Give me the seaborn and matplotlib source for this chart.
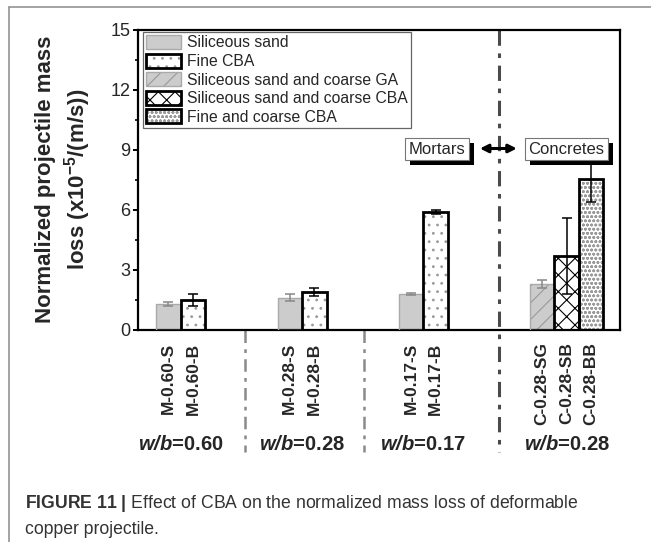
import numpy as np
import pandas as pd
import matplotlib
matplotlib.use("Agg")
import matplotlib.pyplot as plt
import seaborn as sns
from matplotlib.patches import Patch, Rectangle
from matplotlib.lines import Line2D
from matplotlib.ticker import MultipleLocator
from matplotlib.transforms import IdentityTransform

# ---- data -------------------------------------------------------------
samples = ["M-0.60-S", "M-0.60-B", "M-0.28-S", "M-0.28-B", "M-0.17-S", "M-0.17-B",
           "C-0.28-SG", "C-0.28-SB", "C-0.28-BB"]
materials = ["Siliceous sand", "Fine CBA", "Siliceous sand", "Fine CBA",
             "Siliceous sand", "Fine CBA", "Siliceous sand and coarse GA",
             "Siliceous sand and coarse CBA", "Fine and coarse CBA"]
mass_loss = [1.28, 1.48, 1.60, 1.88, 1.78, 5.87, 2.28, 3.67, 7.53]
mass_loss_sd = [0.08, 0.31, 0.19, 0.18, 0.05, 0.10, 0.19, 1.90, 1.17]
group_wb = ["0.60", "0.28", "0.17", "0.28"]
group_size = [2, 2, 2, 3]
legend_order = ["Siliceous sand", "Fine CBA", "Siliceous sand and coarse GA",
                "Siliceous sand and coarse CBA", "Fine and coarse CBA"]

# ---- layout (bar-width units) -----------------------------------------
group_start = [0.0, 4.95, 9.9, 15.25]
positions = []
for start, n in zip(group_start, group_size):
    positions += [start + k for k in range(n)]
group_centre = [start + (n - 1) / 2 for start, n in zip(group_start, group_size)]
dividers = [3.12, 7.98, 13.49]

df = pd.DataFrame({"sample": samples, "material": materials, "pos": positions,
                   "loss": mass_loss, "sd": mass_loss_sd})

# ---- style per material ----------------------------------------------
style = {
    "Siliceous sand": dict(fc="#cccccc", hatch="", hc="#aaaaaa", outline="#aaaaaa", lw=1.0, err="#888888"),
    "Fine CBA": dict(fc="white", hatch="..", hc="#9a9a9a", outline="black", lw=2.0, err="black"),
    "Siliceous sand and coarse GA": dict(fc="#cccccc", hatch="//", hc="#999999", outline="#aaaaaa", lw=1.0, err="#888888"),
    "Siliceous sand and coarse CBA": dict(fc="white", hatch="xx", hc="black", outline="black", lw=2.0, err="black"),
    "Fine and coarse CBA": dict(fc="white", hatch="oooo", hc="#9a9a9a", outline="black", lw=2.0, err="black"),
}

sns.set_style("ticks")
plt.rcParams["font.family"] = ["Liberation Sans", "DejaVu Sans"]
plt.rcParams["mathtext.fontset"] = "custom"
plt.rcParams["mathtext.rm"] = "Liberation Sans"
plt.rcParams["mathtext.it"] = "Liberation Sans:italic"
plt.rcParams["mathtext.bf"] = "Liberation Sans:bold"
plt.rcParams["mathtext.bfit"] = "Liberation Sans:bold:italic"
plt.rcParams["hatch.linewidth"] = 0.8

W, H = 651, 542
fig = plt.figure(figsize=(W / 100, H / 100), dpi=100)
ax = fig.add_axes([138 / W, 1 - 329.5 / H, (619.5 - 138) / W, 300 / H])

sns.barplot(data=df, x="pos", y="loss", native_scale=True, width=1.0,
            color="white", errorbar=None, ax=ax, zorder=2)

bars = sorted(ax.patches, key=lambda p: p.get_x())
for p, mat in zip(bars, df["material"]):
    s = style[mat]
    p.set_facecolor(s["fc"])
    p.set_hatch(s["hatch"])
    p.set_edgecolor(s["hc"])
    p.set_linewidth(0)
    ax.add_patch(Rectangle(p.get_xy(), p.get_width(), p.get_height(), fill=False,
                           ec=s["outline"], lw=s["lw"], zorder=3))

for mat, sub in df.groupby("material"):
    s = style[mat]
    ax.errorbar(sub["pos"], sub["loss"], yerr=sub["sd"], fmt="none",
                ecolor=s["err"], elinewidth=1.1, capsize=3.5, capthick=1.1, zorder=4)

# ---- axes ----------------------------------------------------------------
ax.set_xlim(-1.245, 18.41)
ax.set_ylim(0, 15)
ax.yaxis.set_major_locator(MultipleLocator(3))
ax.yaxis.set_minor_locator(MultipleLocator(1.5))
ax.tick_params(axis="y", which="major", length=3.5, width=1.4, labelsize=13, pad=2, color="black")
ax.tick_params(axis="y", which="minor", length=2.2, width=1.4)
ax.set_xticks(positions, labels=[""] * len(positions))
ax.tick_params(axis="x", length=0)
ax.set_xlabel("")
for side in ["left", "right", "top", "bottom"]:
    ax.spines[side].set_visible(True)
    ax.spines[side].set_color("black")
    ax.spines[side].set_linewidth(1.6)

xt = ax.get_xaxis_transform()
# vertical sample names under each bar
for x0, name in zip(positions, samples):
    ax.text(x0, -0.043, name, transform=xt, rotation=90, ha="center", va="top",
            fontsize=12.5, fontweight="bold")

ax.set_ylabel("Normalized projectile mass\nloss (x10$^{\\mathbf{-5}}$/(m/s))",
              fontsize=16, fontweight="bold", linespacing=1.3)
ax.yaxis.set_label_coords(-0.093, 0.5)

# ---- group separators and labels ------------------------------------------
dash = (0, (5, 2.5, 1.5, 2.5))
for d in dividers[:2]:
    ax.plot([d, d], [0, -0.408], transform=xt, color="#8a8a8a", lw=1.8,
            linestyle=dash, clip_on=False, zorder=1)
ax.plot([dividers[2]] * 2, [1, -0.408], transform=xt, color="#4a4a4a", lw=2.2,
        linestyle=dash, clip_on=False, zorder=1)

for c, wb in zip(group_centre, group_wb):
    ax.text(c, -0.385, r"$\mathbfit{w/b}$=" + wb, transform=xt, ha="center", va="center",
            fontsize=14.5, fontweight="bold")

# ---- legend ------------------------------------------------------------------
handles = []
for mat in legend_order:
    s = style[mat]
    fill = Patch(facecolor=s["fc"], hatch=s["hatch"], edgecolor=s["hc"], lw=0)
    edge = Patch(fill=False, edgecolor=s["outline"], lw=s["lw"])
    handles.append((fill, edge))
leg = ax.legend(handles, legend_order, loc="upper left", bbox_to_anchor=(0.0104, 0.992),
                borderaxespad=0, fontsize=11.3, handlelength=2.2, handleheight=1.0,
                labelspacing=0.2, handletextpad=0.4, borderpad=0.2, fancybox=False,
                frameon=True, edgecolor="#666666", framealpha=1)
leg.get_frame().set_linewidth(0.9)
leg.set_zorder(6)

# ---- Mortars / Concretes tags with drop shadow -----------------------------------
tags = []
for x0, txt in [(10.96, "Mortars"), (16.24, "Concretes")]:
    tags.append(ax.text(x0, 9.02, txt, ha="center", va="center", fontsize=12, zorder=8,
                        bbox=dict(boxstyle="square,pad=0.2", fc="white", ec="#777777", lw=0.8)))
ax.annotate("", xy=(12.71, 9.05), xytext=(14.22, 9.05),
            arrowprops=dict(arrowstyle="<|-|>", color="black", lw=2.2,
                            mutation_scale=12, shrinkA=0, shrinkB=0), zorder=8)

fig.canvas.draw()
for t in tags:
    bb = t.get_bbox_patch().get_window_extent()
    ax.add_patch(Rectangle((bb.x0 + 5, bb.y0 - 5), bb.width, bb.height,
                           transform=IdentityTransform(), fc="black", ec="none",
                           zorder=7, clip_on=False))

# ---- page frame and caption ---------------------------------------------------
fx, fy = 8.5 / W, 1 - 6.5 / H
fig.add_artist(Line2D([fx, fx], [0, fy], color="#8a8a8a", lw=1.1))
fig.add_artist(Line2D([fx, 1], [fy, fy], color="#8a8a8a", lw=1.1))
fig.text(25 / W, 1 - 504 / H,
         r"$\mathbf{FIGURE\ 11\ |}$ Effect of CBA on the normalized mass loss of deformable",
         fontsize=12.7, color="#333333", va="center", ha="left")
fig.text(25 / W, 1 - 530 / H, "copper projectile.", fontsize=12.7, color="#333333",
         va="center", ha="left")

fig.savefig("out.png", dpi=100)
